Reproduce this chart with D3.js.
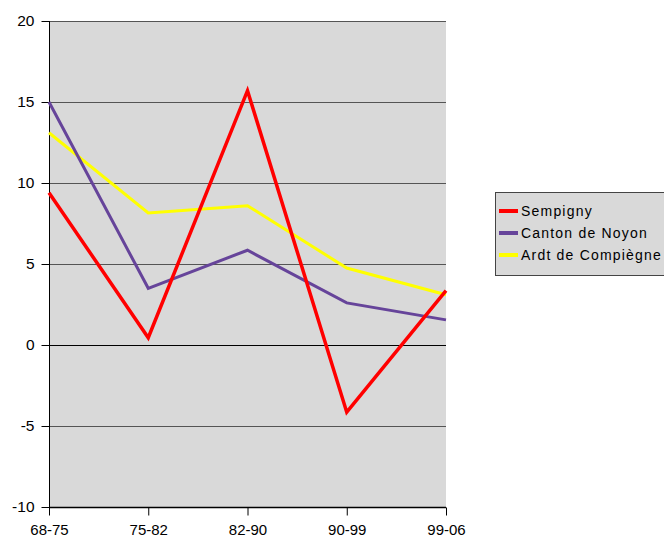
<!DOCTYPE html>
<html><head><meta charset="utf-8">
<script src="https://cdn.jsdelivr.net/npm/d3@7"></script>
<style>body{margin:0;background:#fff}svg{display:block;font-family:"Liberation Sans",Arial,sans-serif}</style>
</head><body><svg id="c" width="664" height="538"></svg>
<script>
const categories = ["68-75","75-82","82-90","90-99","99-06"];
const sempigny = [9.4, 0.45, 15.7, -4.15, 3.35];
const canton = [15.0, 3.5, 5.85, 2.6, 1.55];
const ardt = [13.1, 8.15, 8.6, 4.75, 3.1];
const yTicks = [-10,-5,0,5,10,15,20];
const seriesNames = ["Sempigny","Canton de Noyon","Ardt de Compiègne"];
const seriesColors = ["#ff0000","#66449a","#ffff00"];
const seriesWidths = [3.5,3,3];

const svg = d3.select("#c");
const L=49,R=446,T=21,B=507;
const x = d3.scalePoint().domain(categories).range([L,R]);
const y = d3.scaleLinear().domain([-10,20]).range([B,T]);

svg.append("rect").attr("x",L).attr("y",T).attr("width",R-L).attr("height",B-T).attr("fill","#d9d9d9");
svg.append("g").selectAll("line").data(yTicks.filter(v=>v>-10)).join("line")
  .attr("x1",L).attr("x2",R).attr("y1",d=>y(d)+0.5).attr("y2",d=>y(d)+0.5)
  .attr("stroke",d=>d===0?"#000":"#555").attr("stroke-width",1.2);

const ya = svg.append("g").attr("transform",`translate(${L+0.5},0)`)
  .call(d3.axisLeft(y).tickValues(yTicks).tickFormat(d=>String(d)).tickSize(8).tickPadding(7));
ya.select(".domain").attr("stroke","#000").attr("d",`M0,${T}V${B}`);
ya.selectAll(".tick line").attr("stroke","#000");
ya.selectAll("text").attr("font-size",15.5).attr("fill","#000").attr("font-family","Liberation Sans, Arial, sans-serif");

const xa = svg.append("g").attr("transform",`translate(0,${B+0.5})`)
  .call(d3.axisBottom(x).tickSize(8).tickPadding(9));
xa.select(".domain").attr("stroke","#000").attr("stroke-width",1.5).attr("d",`M${L},0H${R}`);
xa.selectAll(".tick line").attr("stroke","#000");
xa.selectAll("text").attr("font-size",15).attr("fill","#000").attr("font-family","Liberation Sans, Arial, sans-serif");

const line = d3.line().x((d,i)=>x(categories[i])).y(d=>y(d));
const data=[ardt,canton,sempigny];
const idx=[2,1,0];
data.forEach((s,k)=>{
  const i=idx[k];
  svg.append("path").datum(s).attr("d",line).attr("fill","none")
    .attr("stroke",seriesColors[i]).attr("stroke-width",seriesWidths[i]).attr("stroke-linejoin","miter");
});

const lg = svg.append("g");
lg.append("rect").attr("x",495.5).attr("y",192.5).attr("width",180).attr("height",83)
  .attr("fill","#d9d9d9").attr("stroke","#444");
seriesNames.forEach((n,i)=>{
  const yy=211+i*22;
  lg.append("line").attr("x1",499).attr("x2",518).attr("y1",yy).attr("y2",yy)
    .attr("stroke",seriesColors[i]).attr("stroke-width",4);
  lg.append("text").attr("x",521).attr("y",yy+5).text(n).attr("font-size",14)
    .attr("letter-spacing",1.2).attr("fill","#000");
});
</script></body></html>
